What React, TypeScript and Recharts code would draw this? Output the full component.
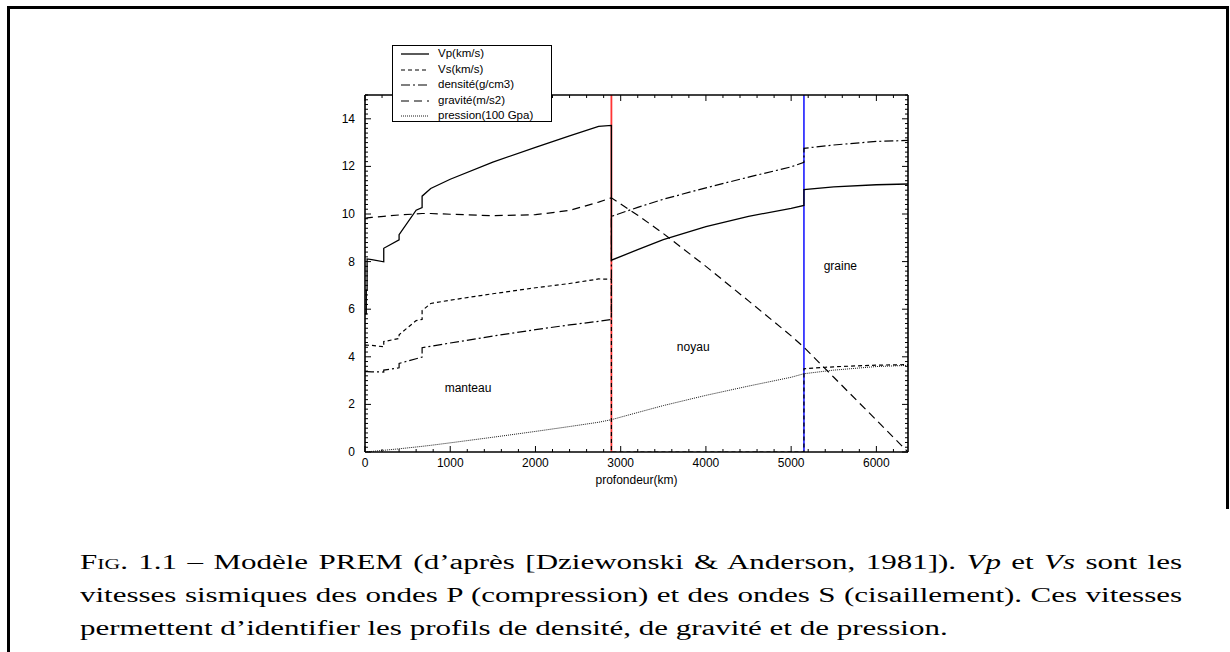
import React from "react";
import { LineChart, Line, XAxis, YAxis, ReferenceLine, ReferenceDot, Legend } from "recharts";

// PREM profile (depth in km)
const depth = [0, 15, 15, 24.4, 24.4, 80, 220, 220, 400, 400, 600, 670, 670, 771, 1000, 1500, 2000, 2400, 2741, 2891, 2891, 3200, 3500, 4000, 4500, 5000, 5150, 5150, 5500, 6000, 6371];
const vp = [5.8, 5.8, 6.8, 6.8, 8.11, 8.08, 7.99, 8.56, 8.91, 9.13, 10.16, 10.27, 10.75, 11.07, 11.46, 12.18, 12.8, 13.28, 13.68, 13.72, 8.06, 8.5, 8.92, 9.47, 9.9, 10.24, 10.36, 11.03, 11.14, 11.23, 11.26];
const vs = [4.49, 4.49, 4.49, 4.49, 4.49, 4.48, 4.42, 4.64, 4.77, 4.93, 5.52, 5.57, 5.94, 6.24, 6.38, 6.65, 6.9, 7.08, 7.27, 7.26, 0, 0, 0, 0, 0, 0, 0, 3.5, 3.58, 3.65, 3.67];
const densite = [3.38, 3.38, 3.38, 3.38, 3.38, 3.37, 3.36, 3.44, 3.54, 3.72, 3.92, 3.99, 4.38, 4.44, 4.58, 4.87, 5.14, 5.34, 5.49, 5.57, 9.9, 10.28, 10.62, 11.1, 11.55, 11.98, 12.17, 12.76, 12.9, 13.05, 13.09];
const gravite = [9.82, 9.83, 9.83, 9.84, 9.84, 9.86, 9.9, 9.9, 9.96, 9.96, 10.0, 10.02, 10.02, 10.02, 9.99, 9.93, 9.97, 10.15, 10.5, 10.68, 10.68, 9.95, 9.18, 7.8, 6.35, 4.88, 4.4, 4.4, 3.14, 1.34, 0];
const pression = [0, 0.003, 0.003, 0.006, 0.006, 0.025, 0.071, 0.071, 0.134, 0.134, 0.21, 0.238, 0.238, 0.28, 0.385, 0.62, 0.865, 1.07, 1.25, 1.358, 1.358, 1.66, 1.95, 2.38, 2.77, 3.14, 3.289, 3.289, 3.44, 3.59, 3.64];

const boundaries = [2891, 5150]; // noyau, graine
const regions = ["manteau", "noyau", "graine"];

const xMajor = [0, 1000, 2000, 3000, 4000, 5000, 6000];
const yMajor = [0, 2, 4, 6, 8, 10, 12, 14];
const xTicks = Array.from({ length: 32 }, (_, i) => i * 200);
const yTicks = Array.from({ length: 76 }, (_, i) => Math.round(i * 2) / 10);

const rows = depth.map((d, i) => ({
  depth: d,
  vp: vp[i],
  vs: vs[i],
  densite: densite[i],
  gravite: gravite[i],
  pression: pression[i],
}));

const series = [
  { key: "vp", name: "Vp(km/s)", dash: undefined as string | undefined, width: 1.3 },
  { key: "vs", name: "Vs(km/s)", dash: "4 3", width: 1.2 },
  { key: "densite", name: "densité(g/cm3)", dash: "9 3 2 3", width: 1.2 },
  { key: "gravite", name: "gravité(m/s2)", dash: "8 5", width: 1.2 },
  { key: "pression", name: "pression(100 Gpa)", dash: "1 1", width: 0.9 },
];

const SANS = "'Liberation Sans', Arial, Helvetica, sans-serif";
const SERIF = "'Liberation Serif', 'Times New Roman', serif";

const isMajor = (v: number, list: number[]) => list.some((m) => Math.abs(m - v) < 1e-6);

function XTick(props: any) {
  const { x, y, payload, top } = props;
  const len = isMajor(payload.value, xMajor) ? 6 : 3;
  const dir = top ? 1 : -1;
  return (
    <g>
      <line x1={x} x2={x} y1={y} y2={y + dir * len} stroke="#000" strokeWidth={1} />
      {!top && isMajor(payload.value, xMajor) && (
        <text x={x} y={y + 15} textAnchor="middle" fontSize={12} fontFamily={SANS} fill="#000">
          {payload.value}
        </text>
      )}
    </g>
  );
}

function YTick(props: any) {
  const { x, y, payload, right } = props;
  const len = isMajor(payload.value, yMajor) ? 6 : 3;
  const dir = right ? -1 : 1;
  return (
    <g>
      <line x1={x} x2={x + dir * len} y1={y} y2={y} stroke="#000" strokeWidth={1} />
      {!right && isMajor(payload.value, yMajor) && (
        <text x={x - 10} y={y + 4} textAnchor="end" fontSize={12} fontFamily={SANS} fill="#000">
          {payload.value}
        </text>
      )}
    </g>
  );
}

function LegendBox() {
  return (
    <div
      style={{
        position: "relative",
        width: 160,
        height: 77,
        border: "1px solid #000",
        background: "#fff",
        boxSizing: "border-box",
        fontFamily: SANS,
        fontSize: 11.5,
      }}
    >
      {series.map((s, i) => (
        <div key={s.key} style={{ position: "absolute", left: 0, top: i * 15.5, height: 15, width: 158, lineHeight: "15px" }}>
          <svg width={40} height={15} style={{ position: "absolute", left: 6, top: 0 }}>
            <line x1={2} x2={30} y1={8} y2={8} stroke="#000" strokeWidth={s.width} strokeDasharray={s.dash} />
          </svg>
          <span style={{ position: "absolute", left: 45, top: 0, whiteSpace: "nowrap" }}>{s.name}</span>
        </div>
      ))}
    </div>
  );
}

export default function App() {
  const axisLine = { stroke: "#000", strokeWidth: 1.6 };
  return (
    <div style={{ position: "fixed", left: 0, top: 0, width: 1230, height: 652, background: "#fff", overflow: "hidden" }}>
      {/* page frame */}
      <div style={{ position: "absolute", left: 7, top: 6, width: 1216, height: 500, borderLeft: "3px solid #000", borderTop: "3px solid #000", borderRight: "3px solid #000" }} />
      <div style={{ position: "absolute", left: 7, top: 500, width: 3, height: 152, background: "#000" }} />

      <div style={{ position: "absolute", left: 0, top: 0 }}>
        <LineChart width={1230} height={652} data={rows} margin={{ top: 94, right: 321, bottom: 199, left: 364 }}>
          <XAxis
            dataKey="depth"
            type="number"
            domain={[0, 6371]}
            allowDataOverflow
            ticks={xTicks}
            interval={0}
            height={1}
            tickSize={0}
            tickMargin={0}
            tickLine={false}
            axisLine={axisLine}
            tick={(p: any) => <XTick {...p} />}
            label={{
              content: (p: any) => (
                <text x={p.viewBox.x + p.viewBox.width / 2} y={p.viewBox.y + 32} textAnchor="middle" fontSize={12} fontFamily={SANS} fill="#000">
                  profondeur(km)
                </text>
              ),
            }}
          />
          <XAxis
            xAxisId="top"
            orientation="top"
            dataKey="depth"
            type="number"
            domain={[0, 6371]}
            allowDataOverflow
            ticks={xTicks}
            interval={0}
            height={1}
            tickSize={0}
            tickMargin={0}
            tickLine={false}
            axisLine={axisLine}
            tick={(p: any) => <XTick {...p} top />}
          />
          <YAxis
            type="number"
            domain={[0, 15]}
            allowDataOverflow
            ticks={yTicks}
            interval={0}
            width={1}
            tickSize={0}
            tickMargin={0}
            tickLine={false}
            axisLine={axisLine}
            tick={(p: any) => <YTick {...p} />}
          />
          <YAxis
            yAxisId="right"
            orientation="right"
            type="number"
            domain={[0, 15]}
            allowDataOverflow
            ticks={yTicks}
            interval={0}
            width={1}
            tickSize={0}
            tickMargin={0}
            tickLine={false}
            axisLine={axisLine}
            tick={(p: any) => <YTick {...p} right />}
          />
          <ReferenceLine x={boundaries[0]} stroke="#ff3535" strokeWidth={1.8} />
          <ReferenceLine x={boundaries[1]} stroke="#3535ff" strokeWidth={1.8} />
          {series.map((s) => (
            <Line
              key={s.key}
              dataKey={s.key}
              name={s.name}
              type="linear"
              stroke="#000"
              strokeWidth={s.width}
              strokeDasharray={s.dash}
              dot={false}
              activeDot={false}
              isAnimationActive={false}
            />
          ))}
          <ReferenceDot x={1209} y={2.7} r={0} fill="none" stroke="none" ifOverflow="visible"
            label={{ value: regions[0], position: "center", fontSize: 12, fill: "#000", fontFamily: SANS }} />
          <ReferenceDot x={3851} y={4.42} r={0} fill="none" stroke="none" ifOverflow="visible"
            label={{ value: regions[1], position: "center", fontSize: 12, fill: "#000", fontFamily: SANS }} />
          <ReferenceDot x={5577} y={7.83} r={0} fill="none" stroke="none" ifOverflow="visible"
            label={{ value: regions[2], position: "center", fontSize: 12, fill: "#000", fontFamily: SANS }} />
          <Legend
            layout="horizontal"
            verticalAlign="middle"
            align="center"
            wrapperStyle={{ position: "absolute", left: 392, top: 45, width: 160, height: 77 }}
            content={() => <LegendBox />}
          />
        </LineChart>
      </div>

      {/* caption */}
      <div
        style={{
          position: "absolute",
          left: 80,
          top: 546,
          width: 711,
          fontFamily: SERIF,
          fontSize: 20,
          lineHeight: "33px",
          color: "#000",
          transform: "scaleX(1.55)",
          transformOrigin: "0 0",
        }}
      >
        <div style={{ textAlign: "justify", textAlignLast: "justify" }}>
          <span style={{ fontVariant: "small-caps" }}>Fig.</span> 1.1 – Modèle PREM (d’après [Dziewonski &amp; Anderson, 1981]). <i>Vp</i> et <i>Vs</i> sont les
        </div>
        <div style={{ textAlign: "justify", textAlignLast: "justify" }}>
          vitesses sismiques des ondes P (compression) et des ondes S (cisaillement). Ces vitesses
        </div>
        <div>permettent d’identifier les profils de densité, de gravité et de pression.</div>
      </div>
    </div>
  );
}
